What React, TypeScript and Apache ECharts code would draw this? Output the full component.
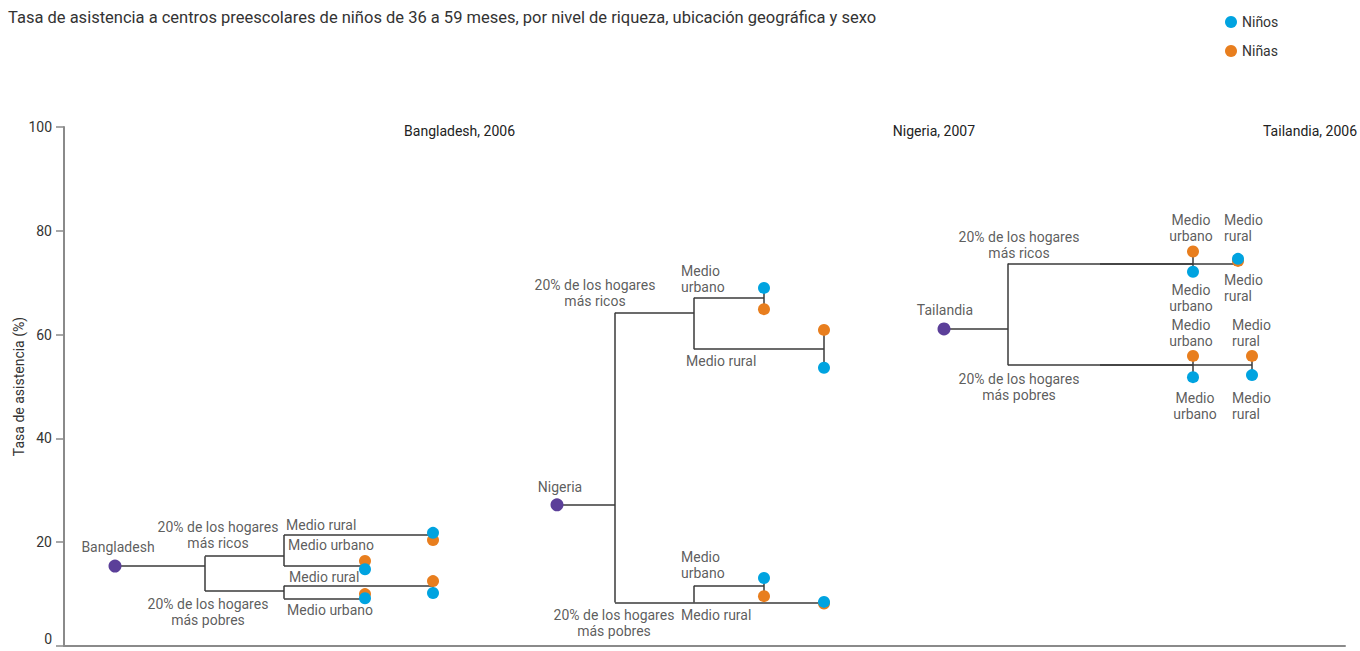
import React, { useEffect, useRef } from "react";
import * as echarts from "echarts";

// ---- Data (attendance rate, %) ----
const countries = ["Bangladesh", "Nigeria", "Tailandia"];
const years = ["2006", "2007", "2006"];
const totalRate = [15.4, 27.2, 61.1];
const richestRate = [17.3, 64.2, 73.7];
const poorestRate = [10.6, 8.4, 54.1];
const richUrbanRate = [15.4, 67.1, 73.7];
const richRuralRate = [21.4, 57.2, 73.7];
const poorUrbanRate = [9.1, 11.6, 54.1];
const poorRuralRate = [11.6, 8.4, 54.1];
const richUrbanBoys = [14.8, 69.0, 72.1];
const richUrbanGirls = [16.4, 64.9, 76.0];
const richRuralBoys = [21.8, 53.6, 74.6];
const richRuralGirls = [20.4, 60.9, 74.2];
const poorUrbanBoys = [9.2, 13.1, 51.8];
const poorUrbanGirls = [10.0, 9.6, 55.9];
const poorRuralBoys = [10.2, 8.5, 52.2];
const poorRuralGirls = [12.5, 8.2, 55.9];
const yTicks = [0, 20, 40, 60, 80, 100];

// ---- Layout (horizontal column positions of the tree levels, px from page left) ----
const GRID_LEFT = 64;
const colRoot = [115, 557, 944];
const colSplit = [205, 615, 1008];
const colSub = [284, 694, 1100];
const colUrban = [365, 764, 1193];
const colRuralRich = [433, 824, 1238];
const colRuralPoor = [433, 824, 1252];
const headerRight = [515, 975, 1357];

const X = (px: number) => px - GRID_LEFT;
const pxToVal = (py: number) => (646 - py) / 5.19;

const RICH = "20% de los hogares\nmás ricos";
const POOR = "20% de los hogares\nmás pobres";
// labels: [xPx, yPx (center), text, align]
const labelList: [number, number, string, string][] = [
  [118, 547, "Bangladesh", "center"],
  [218, 534.5, RICH, "center"],
  [286, 525, "Medio rural", "left"],
  [288, 545, "Medio urbano", "left"],
  [289, 577, "Medio rural", "left"],
  [287, 610, "Medio urbano", "left"],
  [208, 611.5, POOR, "center"],
  [560, 487, "Nigeria", "center"],
  [595, 293, RICH, "center"],
  [681, 279, "Medio\nurbano", "left"],
  [686, 361, "Medio rural", "left"],
  [681, 565, "Medio\nurbano", "left"],
  [681, 615, "Medio rural", "left"],
  [614, 623, POOR, "center"],
  [945, 310, "Tailandia", "center"],
  [1019, 244.5, RICH, "center"],
  [1019, 387, POOR, "center"],
  [1191, 227.5, "Medio\nurbano", "center"],
  [1224, 227.5, "Medio\nrural", "left"],
  [1191, 297.5, "Medio\nurbano", "center"],
  [1224, 288, "Medio\nrural", "left"],
  [1191, 332.5, "Medio\nurbano", "center"],
  [1232, 332.5, "Medio\nrural", "left"],
  [1195, 405.5, "Medio\nurbano", "center"],
  [1232, 405.5, "Medio\nrural", "left"],
];

const BLUE = "#00a3e0";
const ORANGE = "#e87e1e";
const PURPLE = "#5b3f99";
const LINE = "#3a3a3a";
const TEXT = "#333333";
const FONT = "Roboto, 'Noto Sans', sans-serif";

export default function App() {
  const ref = useRef<HTMLDivElement>(null);
  useEffect(() => {
    document.body.style.margin = "0";
    if (!ref.current) return;
    const chart = echarts.init(ref.current, null, { renderer: "svg" });

    const segs: any[] = [];
    const seg = (x1: number, y1: number, x2: number, y2: number) =>
      segs.push({ coords: [[X(x1), y1], [X(x2), y2]] });
    const boys: any[] = [];
    const girls: any[] = [];
    const roots: any[] = [];
    countries.forEach((_, i) => {
      roots.push([X(colRoot[i]), totalRate[i]]);
      seg(colRoot[i], totalRate[i], colSplit[i], totalRate[i]);
      seg(colSplit[i], richestRate[i], colSplit[i], poorestRate[i]);
      seg(colSplit[i], richestRate[i], colSub[i], richestRate[i]);
      seg(colSplit[i], poorestRate[i], colSub[i], poorestRate[i]);
      seg(colSub[i], richUrbanRate[i], colSub[i], richRuralRate[i]);
      seg(colSub[i], poorUrbanRate[i], colSub[i], poorRuralRate[i]);
      seg(colSub[i], richUrbanRate[i], colUrban[i], richUrbanRate[i]);
      seg(colSub[i], richRuralRate[i], colRuralRich[i], richRuralRate[i]);
      seg(colSub[i], poorUrbanRate[i], colUrban[i], poorUrbanRate[i]);
      seg(colSub[i], poorRuralRate[i], colRuralPoor[i], poorRuralRate[i]);
      seg(colUrban[i], richUrbanBoys[i], colUrban[i], richUrbanGirls[i]);
      seg(colRuralRich[i], richRuralBoys[i], colRuralRich[i], richRuralGirls[i]);
      seg(colUrban[i], poorUrbanBoys[i], colUrban[i], poorUrbanGirls[i]);
      seg(colRuralPoor[i], poorRuralBoys[i], colRuralPoor[i], poorRuralGirls[i]);
      boys.push([X(colUrban[i]), richUrbanBoys[i]], [X(colRuralRich[i]), richRuralBoys[i]],
        [X(colUrban[i]), poorUrbanBoys[i]], [X(colRuralPoor[i]), poorRuralBoys[i]]);
      girls.push([X(colUrban[i]), richUrbanGirls[i]], [X(colRuralRich[i]), richRuralGirls[i]],
        [X(colUrban[i]), poorUrbanGirls[i]], [X(colRuralPoor[i]), poorRuralGirls[i]]);
    });

    const labelData = labelList.map(([x, y, t, a]) => ({
      value: [X(x), pxToVal(y)],
      label: {
        show: true,
        formatter: t,
        position: "inside",
        align: a,
        verticalAlign: "middle",
        color: TEXT,
        fontSize: 14,
        lineHeight: 16,
        fontFamily: FONT,
      },
    }));

    chart.setOption({
      animation: false,
      textStyle: { fontFamily: FONT },
      grid: {
        left: GRID_LEFT,
        right: 15,
        top: 127,
        bottom: 5,
        containLabel: false,
        outerBoundsMode: "none",
      },
      legend: {
        data: ["Niños", "Niñas"],
        orient: "vertical",
        left: 1220,
        top: 10,
        icon: "circle",
        itemWidth: 12,
        itemHeight: 12,
        itemGap: 15,
        textStyle: { color: TEXT, fontSize: 14, fontFamily: FONT },
      },
      graphic: [
        {
          type: "text",
          left: 8,
          top: 9,
          style: {
            text: "Tasa de asistencia a centros preescolares de niños de 36 a 59 meses, por nivel de riqueza, ubicación geográfica y sexo",
            fill: TEXT,
            fontSize: 16.5,
            fontFamily: FONT,
          },
        },
        ...countries.map((c, i) => ({
          type: "text",
          x: headerRight[i],
          y: 131,
          style: {
            text: `${c}, ${years[i]}`,
            fill: "#222",
            fontSize: 14,
            fontFamily: FONT,
            align: "right",
            verticalAlign: "middle",
          },
        })),
      ],
      xAxis: {
        type: "value",
        min: 0,
        max: 1360 - GRID_LEFT - 15,
        axisLine: { show: true, onZero: false, lineStyle: { color: "#8a8a8a", width: 2 } },
        axisTick: { show: false },
        axisLabel: { show: false },
        splitLine: { show: false },
      },
      yAxis: {
        type: "value",
        min: yTicks[0],
        max: yTicks[yTicks.length - 1],
        interval: 20,
        name: "Tasa de asistencia (%)",
        nameLocation: "middle",
        nameRotate: 90,
        nameGap: 38,
        nameMoveOverlap: false,
        nameTextStyle: { color: TEXT, fontSize: 14, fontFamily: FONT },
        axisLine: { show: true, lineStyle: { color: "#8a8a8a", width: 2 } },
        axisTick: { show: true, length: 8, lineStyle: { color: "#8a8a8a", width: 1.5 } },
        axisLabel: {
          color: TEXT,
          fontSize: 14,
          margin: 12,
          fontFamily: FONT,
          verticalAlignMinLabel: "bottom",
        },
        splitLine: { show: false },
      },
      series: [
        {
          type: "lines",
          coordinateSystem: "cartesian2d",
          data: segs,
          lineStyle: { color: LINE, width: 1.5, opacity: 1 },
          z: 1,
          silent: true,
        },
        {
          name: "Países",
          type: "scatter",
          data: roots,
          symbolSize: 13,
          itemStyle: { color: PURPLE, opacity: 1 },
          z: 3,
        },
        {
          name: "Niñas",
          type: "scatter",
          data: girls,
          symbolSize: 12,
          itemStyle: { color: ORANGE, opacity: 1 },
          z: 3,
        },
        {
          name: "Niños",
          type: "scatter",
          data: boys,
          symbolSize: 12,
          itemStyle: { color: BLUE, opacity: 1 },
          z: 4,
        },
        {
          name: "labels",
          type: "scatter",
          data: labelData,
          symbolSize: 1,
          itemStyle: { color: "rgba(0,0,0,0)" },
          z: 5,
          silent: true,
        },
      ],
    });
    return () => chart.dispose();
  }, []);
  return <div ref={ref} style={{ width: 1360, height: 651 }} />;
}
